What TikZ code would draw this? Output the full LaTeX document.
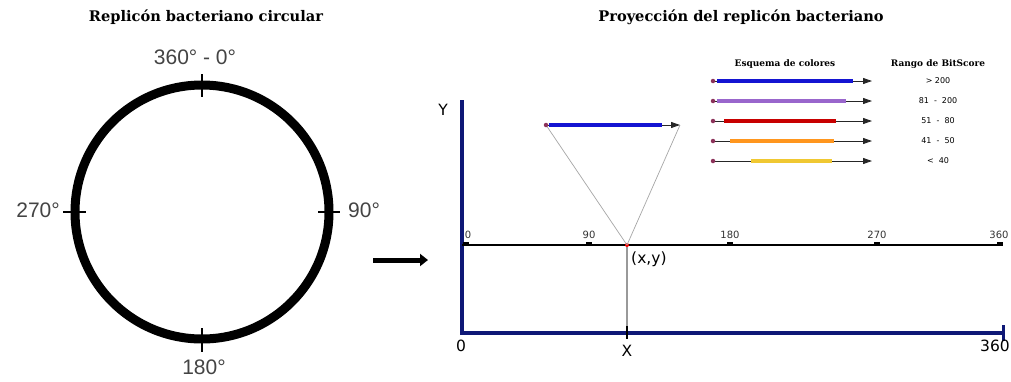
\documentclass[tikz,border=0pt]{standalone}
\usepackage{fontspec}
\setmainfont{Liberation Serif}
\setsansfont{DejaVu Sans}
\newfontfamily\arialf{Liberation Sans}
\newfontfamily\serifb{DejaVu Serif}
\usetikzlibrary{arrows.meta}
\definecolor{navy}{RGB}{14,24,118}
\definecolor{txtgray}{RGB}{68,68,68}
\definecolor{dotc}{RGB}{140,50,90}
\definecolor{cblue}{RGB}{20,20,210}
\definecolor{cpurple}{RGB}{153,102,204}
\definecolor{cred}{RGB}{200,0,0}
\definecolor{corange}{RGB}{255,150,30}
\definecolor{cyellow}{RGB}{240,200,50}
\tikzset{
  titletext/.style={font=\serifb\bfseries\fontsize{14.6}{17}\selectfont, inner sep=0pt},
  smalltitle/.style={font=\serifb\bfseries\fontsize{9}{11}\selectfont, inner sep=0pt},
  deglabel/.style={font=\arialf\fontsize{21}{24}\selectfont, text=txtgray, inner sep=0pt},
  axislabel/.style={font=\sffamily\fontsize{15.5}{18}\selectfont, inner sep=0pt},
  ticklabel/.style={font=\sffamily\fontsize{10}{12}\selectfont, text=black!80, inner sep=0pt},
  rangelabel/.style={font=\sffamily\fontsize{8}{10}\selectfont, inner sep=0pt},
  cirtick/.style={line width=1.6pt},
  navyaxis/.style={draw=navy, line width=4.5pt},
  legarrow/.style={draw=black!85, line width=0.9pt, -{Triangle[length=9pt,width=6pt]}},
  legdot/.style={circle, fill=dotc, inner sep=0pt, minimum size=4.5pt},
  tickbox/.style={fill=black, minimum width=6pt, minimum height=4pt, inner sep=0pt},
  thinline/.style={draw=black!35, line width=0.7pt},
}
\begin{document}
\begin{tikzpicture}[x=1pt,y=-1pt]
\useasboundingbox[fill=white] (0,0) rectangle (1011,381);

% ---------- left: circular replicon ----------
\node[titletext] (t1) at (206,17) {Replicón bacteriano circular};
\coordinate (C) at (202,212);
\draw[line width=9pt] (C) circle[radius=127];
\draw[cirtick] (202,74) -- (202,97);
\draw[cirtick] (202,328) -- (202,352);
\draw[cirtick] (63,212) -- (86,212);
\draw[cirtick] (318,212) -- (340,212);
\node[deglabel] (l0) at (195,57) {360° - 0°};
\node[deglabel, anchor=east] (l270) at (60,210) {270°};
\node[deglabel, anchor=west] (l90) at (348,210) {90°};
\node[deglabel] (l180) at (204,367) {180°};

% ---------- arrow ----------
\coordinate (a1) at (373,260);
\coordinate (a2) at (428,260);
\draw[line width=5pt, -{Triangle[length=8pt,width=12pt]}] (a1) -- (a2);

% ---------- right: projection ----------
\node[titletext] (t2) at (741,17) {Proyección del replicón bacteriano};

\coordinate (O) at (462,333);
\coordinate (Ytop) at (462,100);
\coordinate (Xend) at (1003,333);
\draw[navyaxis] (Ytop) -- (462,335.2);
\draw[navyaxis] (460,333) -- (Xend);
\draw[draw=navy, line width=3pt] (1003,325) -- (1003,341);
\node[axislabel] (Y) at (443,110) {Y};
\node[axislabel] (zero) at (461,346) {0};
\node[axislabel] (X) at (627,351) {X};
\node[axislabel] (x360) at (995,346) {360};

% horizontal line of positions
\coordinate (h0) at (462,245);
\coordinate (h1) at (1003,245);
\draw[line width=2pt] (h0) -- (h1);
\foreach \xx/\lab/\lx in {466/0/468, 589/90/589, 730/180/730, 877/270/877, 1000/360/999}{
  \node[tickbox] at (\xx,244) {};
  \node[ticklabel] at (\lx,235) {\lab};
}

% point (x,y)
\coordinate (P) at (627,245);
\coordinate (Pb) at (627,333);
\draw[draw=black!40, line width=1.6pt] (P) -- (Pb);
\draw[line width=1.4pt] (627,326) -- (627,339);
\node[circle, fill=red, inner sep=0pt, minimum size=4pt] (Pdot) at (P) {};
\node[axislabel, anchor=west] (xy) at (631,259) {(x,y)};

% zoomed gene
\coordinate (g0) at (546,125);
\coordinate (g1) at (680,125);
\draw[thinline] (P) -- (g0);
\draw[thinline] (P) -- (g1);
\draw[legarrow] (g0) -- (g1);
\draw[draw=cblue, line width=4pt] (549,125) -- (662,125);
\node[legdot] at (g0) {};

% legend
\node[smalltitle] (lt1) at (785,64) {Esquema de colores};
\node[smalltitle] (lt2) at (938,64) {Rango de BitScore};
\foreach \yy/\col/\xa/\xb/\lab in {81/cblue/717/853/{> 200}, 101/cpurple/717/846/{81 \ - \ 200}, 121/cred/724/836/{51 \ - \ 80}, 141/corange/730/834/{41 \ - \ 50}, 161/cyellow/751/832/{<\ \ 40}}{
  \draw[legarrow] (713,\yy) -- (872,\yy);
  \draw[draw=\col, line width=4pt] (\xa,\yy) -- (\xb,\yy);
  \node[legdot] at (713,\yy) {};
  \node[rangelabel] at (938,\yy) {\lab};
}
\end{tikzpicture}
\end{document}
